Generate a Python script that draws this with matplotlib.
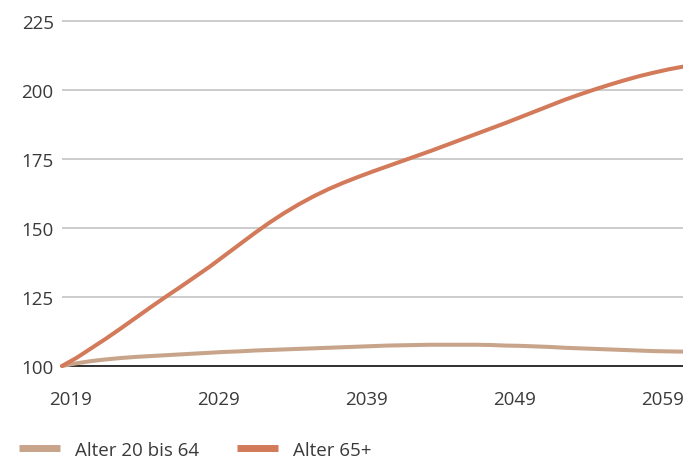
import matplotlib.pyplot as plt
import matplotlib.transforms as mtransforms

plt.rcParams['font.family'] = ['Open Sans', 'DejaVu Sans']

years = list(range(2019, 2062))

# index 2019 = 100
alter_20_64 = [100, 101.0, 101.8, 102.4, 102.9, 103.3, 103.6, 103.9, 104.2, 104.5,
               104.8, 105.1, 105.3, 105.6, 105.8, 106.0, 106.2, 106.4, 106.6, 106.8,
               107.0, 107.2, 107.4, 107.5, 107.6, 107.7, 107.7, 107.7, 107.7, 107.6,
               107.4, 107.3, 107.1, 106.9, 106.6, 106.4, 106.2, 106.0, 105.8, 105.6,
               105.4, 105.3, 105.2]
alter_65 = [100, 103.0, 106.5, 110.0, 113.7, 117.5, 121.3, 125.0, 128.6, 132.3,
            136.0, 140.0, 144.0, 148.0, 151.8, 155.3, 158.5, 161.4, 164.0, 166.3,
            168.4, 170.4, 172.3, 174.2, 176.1, 178.0, 180.0, 182.0, 184.0, 186.0,
            188.0, 190.1, 192.2, 194.3, 196.4, 198.3, 200.1, 201.8, 203.4, 204.9,
            206.2, 207.4, 208.4]

xticks = [2019, 2029, 2039, 2049, 2059]
yticks = [100, 125, 150, 175, 200, 225]

c_young = '#c8a48a'
c_old = '#d27a5a'
txt = '#3a3a3a'

fig = plt.figure(figsize=(6.83, 4.60), dpi=100)
ax = fig.add_axes([62/683, 93/460, 621/683, 367/460])

ax.plot(years, alter_20_64, color=c_young, lw=2.9, label='Alter 20 bis 64',
        solid_capstyle='round', clip_on=False, zorder=3)
ax.plot(years, alter_65, color=c_old, lw=2.9, label='Alter 65+',
        solid_capstyle='round', clip_on=False, zorder=4)

ax.set_xlim(2019, 2061)
ax.set_ylim(100, 232.9)
ax.set_xticks(xticks)
ax.set_xticklabels([str(y) for y in xticks])
ax.set_yticks(yticks)

for s in ['top', 'right', 'left']:
    ax.spines[s].set_visible(False)
ax.spines['bottom'].set_color('#222222')
ax.spines['bottom'].set_linewidth(1.3)

ax.grid(axis='y', color='#c4c4c4', lw=1.2)
ax.set_axisbelow(True)
ax.tick_params(axis='both', length=0, labelsize=13.5, colors=txt)
ax.tick_params(axis='y', pad=6)
ax.tick_params(axis='x', pad=17)

# year labels sit a little right of the tick position
offset = mtransforms.ScaledTranslation(9/100, 0, fig.dpi_scale_trans)
for lab in ax.get_xticklabels():
    lab.set_transform(lab.get_transform() + offset)

leg = fig.legend(loc='center left', bbox_to_anchor=(19/683, 1 - 451/460),
                 ncol=2, frameon=False, fontsize=13.5, handlelength=2.2,
                 handletextpad=0.8, columnspacing=2.0, borderpad=0,
                 borderaxespad=0)
for h in leg.get_lines():
    h.set_linewidth(5)
    h.set_solid_capstyle('butt')
for t in leg.get_texts():
    t.set_color(txt)

plt.savefig('out.png', dpi=100)
